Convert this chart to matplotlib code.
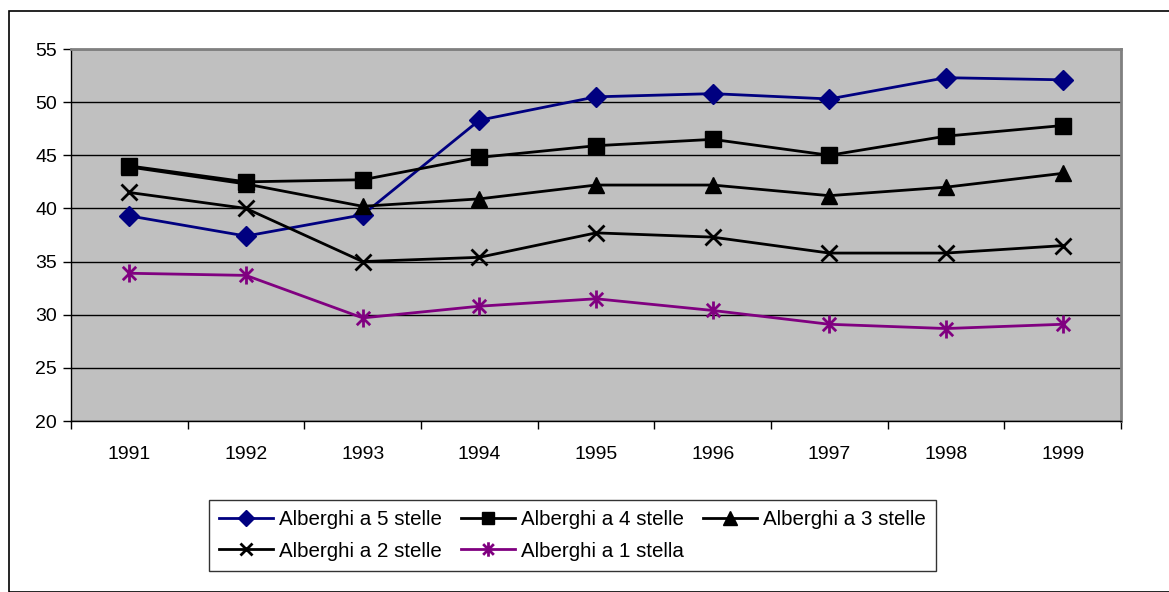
import matplotlib
matplotlib.use("Agg")
import matplotlib.pyplot as plt
from matplotlib.path import Path
from matplotlib.patches import Rectangle
import numpy as np

plt.rcParams['font.family'] = ['Liberation Sans', 'DejaVu Sans']

years = ["1991", "1992", "1993", "1994", "1995", "1996", "1997", "1998", "1999"]
stelle5 = [39.3, 37.4, 39.4, 48.3, 50.5, 50.8, 50.3, 52.3, 52.1]
stelle4 = [44.0, 42.5, 42.7, 44.8, 45.9, 46.5, 45.0, 46.8, 47.8]
stelle3 = [43.9, 42.3, 40.2, 40.9, 42.2, 42.2, 41.2, 42.0, 43.3]
stelle2 = [41.5, 40.0, 35.0, 35.4, 37.7, 37.3, 35.8, 35.8, 36.5]
stella1 = [33.9, 33.7, 29.7, 30.8, 31.5, 30.4, 29.1, 28.7, 29.1]
labels = ["Alberghi a 5 stelle", "Alberghi a 4 stelle", "Alberghi a 3 stelle",
          "Alberghi a 2 stelle", "Alberghi a 1 stella"]

star = Path([(-1, -1), (1, 1), (-1, 1), (1, -1), (0, -1.35), (0, 1.35)],
            [Path.MOVETO, Path.LINETO, Path.MOVETO, Path.LINETO, Path.MOVETO, Path.LINETO])

fig = plt.figure(figsize=(11.69, 5.92), dpi=100)
fig.patches.append(Rectangle((9/1169, 0), 1.2, 1 - 11/592, transform=fig.transFigure,
                             fill=False, edgecolor='black', linewidth=1.2))
ax = fig.add_axes([71/1169, 1 - 421/592, 1050/1169, 372/592])
ax.set_facecolor('#C0C0C0')

x = np.arange(len(years))
series = [
    (stelle5, dict(color='#000080', marker='D', markersize=10, markerfacecolor='#000080', markeredgecolor='#000080')),
    (stelle4, dict(color='black', marker='s', markersize=11.5, markerfacecolor='black')),
    (stelle3, dict(color='black', marker='^', markersize=12, markerfacecolor='black')),
    (stelle2, dict(color='black', marker='x', markersize=11, markeredgewidth=2)),
    (stella1, dict(color='#800080', marker=star, markersize=13, markeredgewidth=2)),
]
handles = []
for (vals, st), lab in zip(series, labels):
    h, = ax.plot(x, vals, linewidth=2, label=lab, zorder=3, **st)
    handles.append(h)

ax.set_xlim(-0.5, len(years) - 0.5)
ax.set_ylim(20, 55)
ax.set_yticks(np.arange(20, 56, 5))
ax.yaxis.grid(True, color='black', linewidth=1)
ax.set_axisbelow(True)
ax.set_xticks(np.arange(-0.5, len(years), 1))
ax.set_xticklabels([])
ax.set_xticks(x, minor=True)
ax.set_xticklabels(years, minor=True)
ax.tick_params(axis='x', which='major', direction='out', length=6, width=1, color='black')
ax.tick_params(axis='x', which='minor', length=0, pad=18, labelsize=14)
ax.tick_params(axis='y', direction='out', length=6, width=1, color='black', labelsize=14, pad=4)
for s in ['top', 'right']:
    ax.spines[s].set_color('#808080')
    ax.spines[s].set_linewidth(2)
for s in ['left', 'bottom']:
    ax.spines[s].set_color('black')
    ax.spines[s].set_linewidth(1)

order = [0, 3, 1, 4, 2]
leg = fig.legend(handles=[handles[i] for i in order], loc='upper left',
                 bbox_to_anchor=(209/1169, 1 - 500/592),
                 ncol=3, frameon=True, fancybox=False, edgecolor='black', fontsize=14.8,
                 handlelength=2.6, handletextpad=0.3, columnspacing=0.95,
                 borderpad=0.5, labelspacing=0.6, borderaxespad=0, markerscale=0.8)
leg.get_frame().set_linewidth(1)

fig.savefig('out.png', dpi=100, facecolor='white')
